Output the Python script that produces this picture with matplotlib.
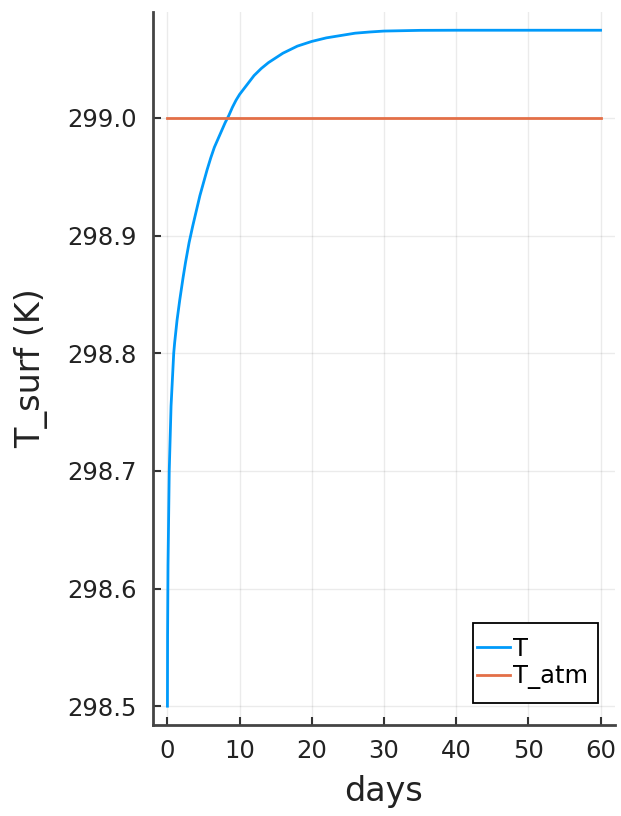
import matplotlib
matplotlib.use("Agg")
import matplotlib.pyplot as plt
from matplotlib.path import Path

# data
days = [0, 0.02, 0.08, 0.25, 0.5, 0.87, 1.0, 1.33, 1.7, 2.16, 2.5, 3.0, 3.5,
        4.0, 4.5, 5.0, 5.5, 6.0, 6.5, 7.0, 7.5, 8.0, 8.5, 9.0, 9.5, 10.0,
        11.0, 12.0, 13.0, 14.0, 15.0, 16.0, 17.0, 18.0, 19.0, 20.0, 22.0,
        24.0, 26.0, 28.0, 30.0, 35.0, 40.0, 50.0, 60.0]
T = [298.500, 298.560, 298.620, 298.700, 298.755, 298.800, 298.809, 298.828,
     298.845, 298.864, 298.877, 298.894, 298.908, 298.921, 298.934, 298.945,
     298.956, 298.966, 298.975, 298.982, 298.989, 298.996, 299.002, 299.009,
     299.015, 299.020, 299.028, 299.036, 299.042, 299.047, 299.051, 299.055,
     299.058, 299.061, 299.063, 299.065, 299.068, 299.070, 299.072, 299.073,
     299.0738, 299.0744, 299.0745, 299.0745, 299.0745]
atm_days = [0, 60]
T_atm = [299.0, 299.0]
xticks = [0, 10, 20, 30, 40, 50, 60]
yticks = [298.5, 298.6, 298.7, 298.8, 298.9, 299.0]
ytick_labels = ["298.5", "298.6", "298.7", "298.8", "298.9", "299.0"]

fig = plt.figure(figsize=(6.21, 8.16), dpi=100)
ax = fig.add_axes([153/621, 1-725/816, (615-153)/621, (725-12)/816])

ax.plot(days, T, color="#009AFA", lw=2.0, label="T", zorder=3)
ax.plot(atm_days, T_atm, color="#E36F47", lw=2.0, label="T_atm", zorder=3)

ax.set_xlim(-2.0, 62.0)
ax.set_ylim(298.484, 299.090)
ax.set_xticks(xticks)
ax.set_yticks(yticks)
ax.set_yticklabels(ytick_labels)
ax.grid(True, color="black", alpha=0.08, lw=1.0)
ax.set_axisbelow(True)

for s in ["top", "right"]:
    ax.spines[s].set_visible(False)
for s in ["left", "bottom"]:
    ax.spines[s].set_linewidth(2.0)
    ax.spines[s].set_color("#444444")

ax.tick_params(direction="in", length=6, width=1.5, colors="#333333",
               labelsize=17.5, labelcolor="#222222")
ax.tick_params(axis="y", pad=11.5)
ax.tick_params(axis="x", pad=10)

ax.set_xlabel("days", fontsize=24, color="#222222", labelpad=9)
ax.set_ylabel("T_surf (K)", fontsize=24, color="#222222", labelpad=14)


def legend_box(x0, y0, width, height, mutation_size):
    py = 0.36 * mutation_size
    pr = 0.2 * mutation_size
    verts = [(x0, y0 - py), (x0 + width + pr, y0 - py),
             (x0 + width + pr, y0 + height + py),
             (x0, y0 + height + py), (x0, y0 - py)]
    return Path(verts, closed=True)


leg = ax.legend(loc="lower right", bbox_to_anchor=(0.952, 0.0432),
                borderaxespad=0, fontsize=17.5, handlelength=1.32,
                handletextpad=0.14, labelspacing=0.14, fancybox=False,
                framealpha=1, edgecolor="black", borderpad=0.2)
leg.get_frame().set_linewidth(1.3)
leg.get_frame().set_boxstyle(legend_box)

fig.savefig("out.png", dpi=100)
